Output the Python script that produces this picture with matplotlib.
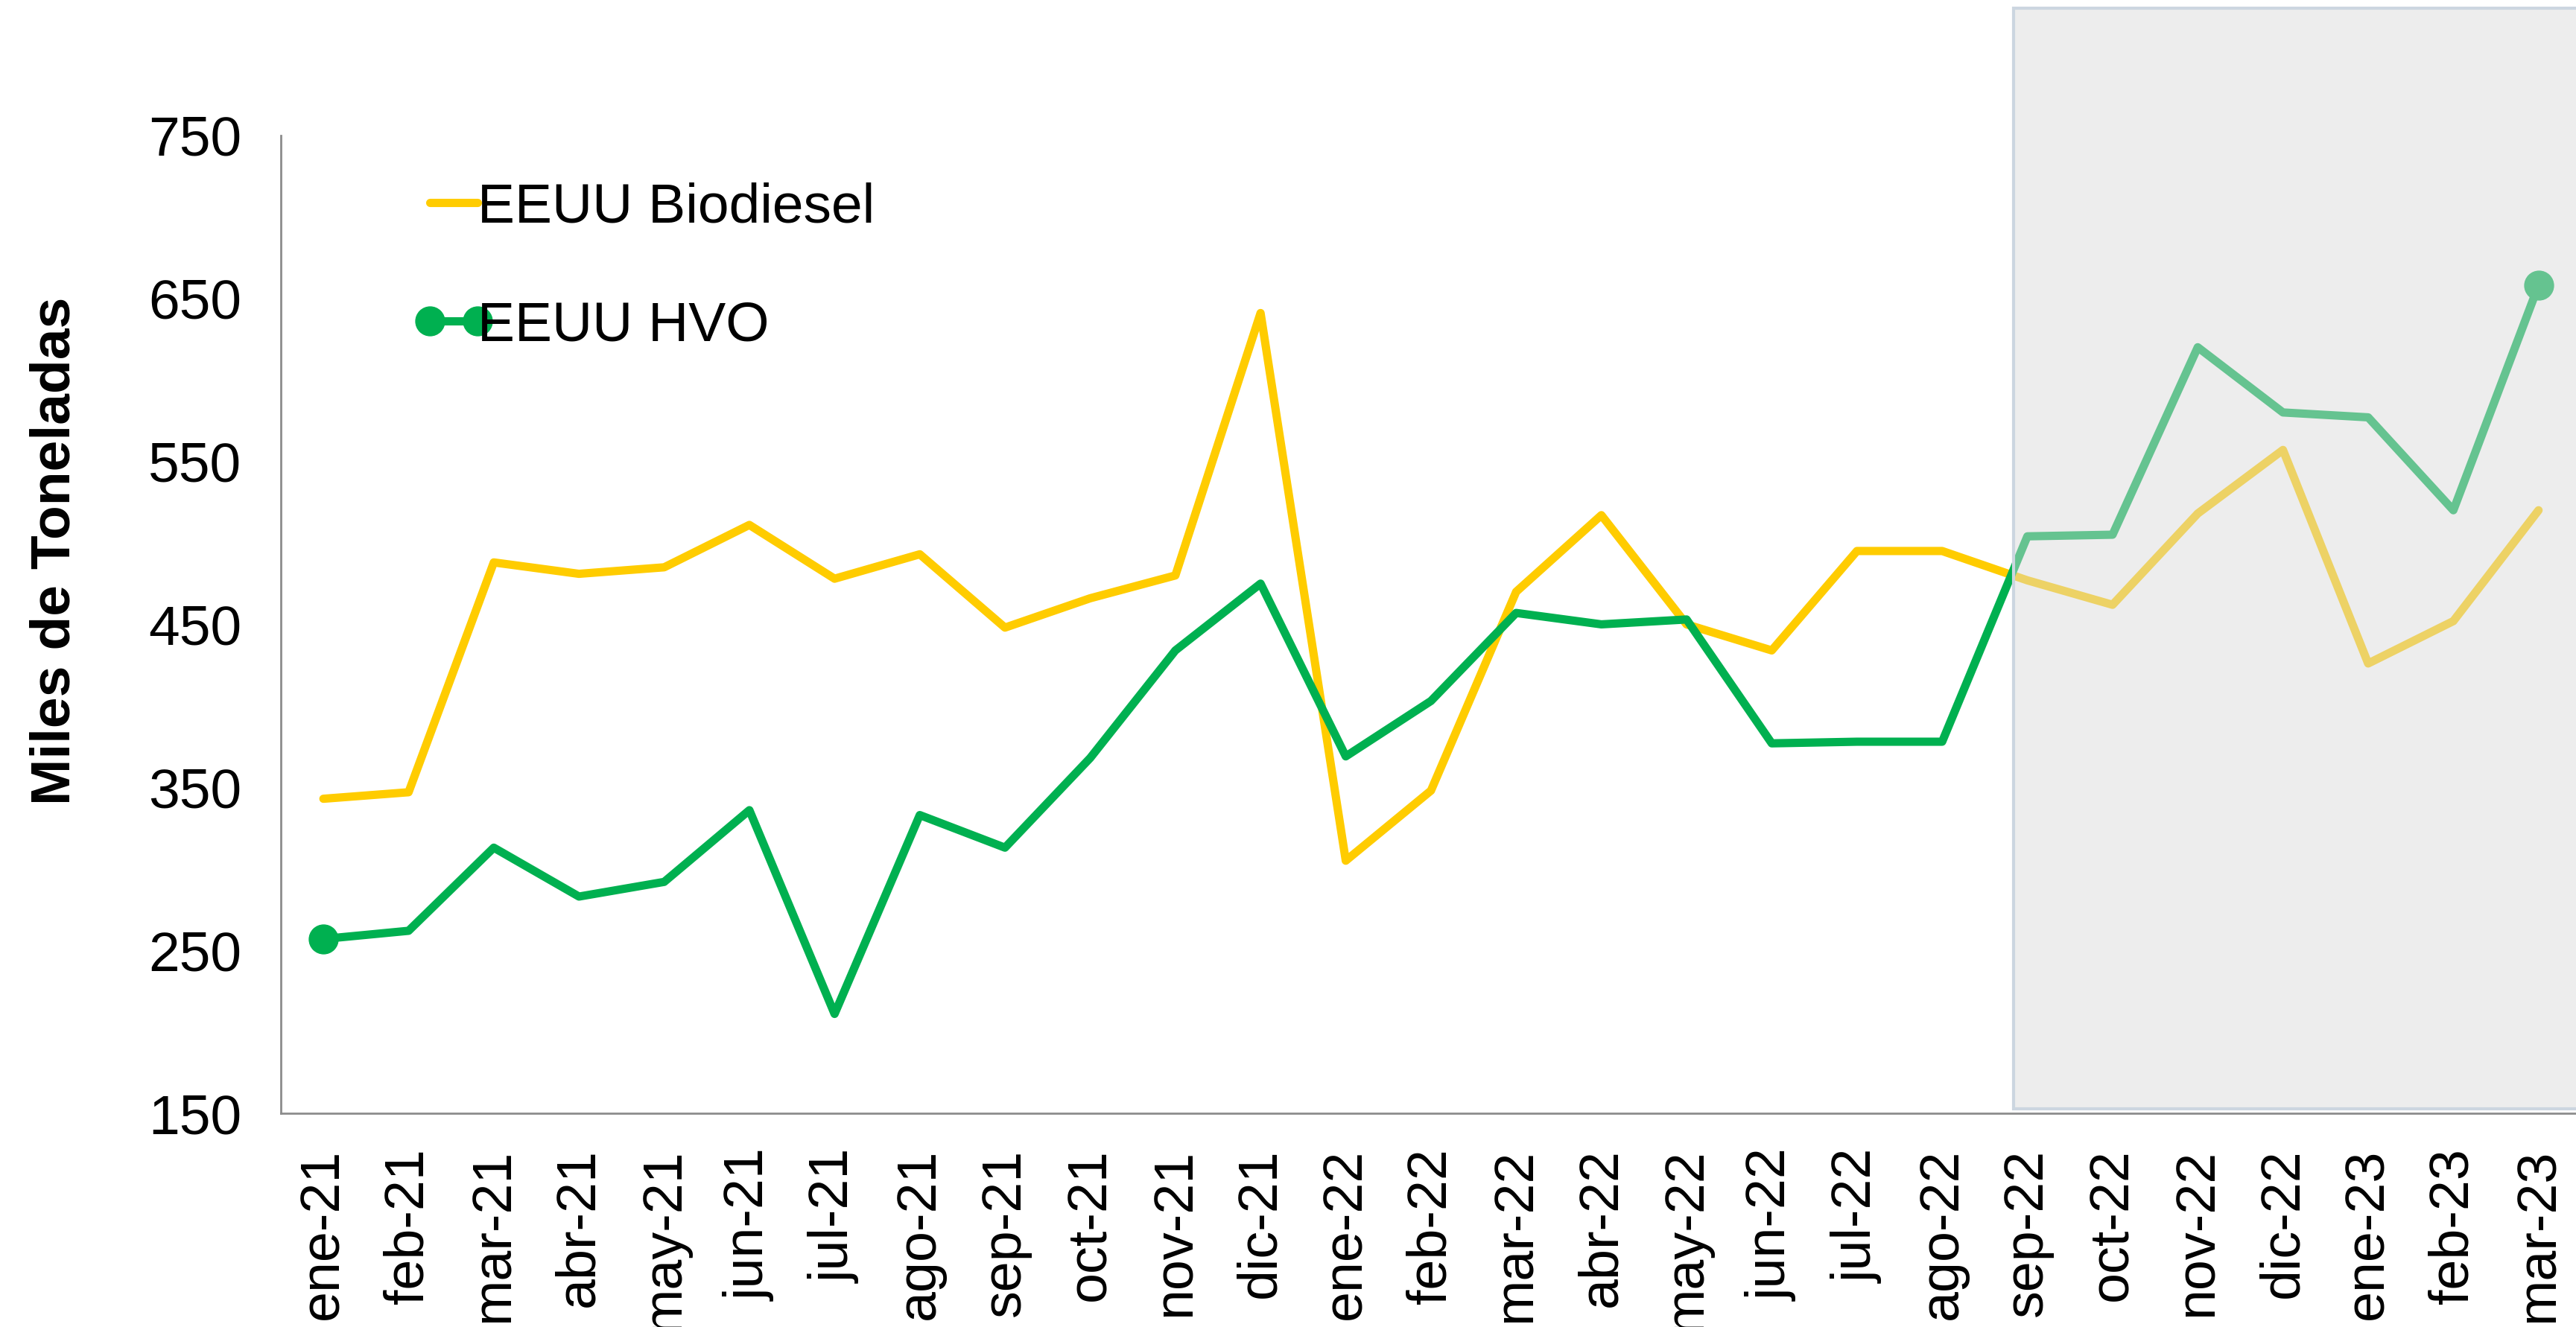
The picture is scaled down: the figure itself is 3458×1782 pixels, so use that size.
import numpy as np
import matplotlib
matplotlib.use("Agg")
import matplotlib.pyplot as plt
from matplotlib import font_manager
from matplotlib.patches import Rectangle
from matplotlib.legend_handler import HandlerLine2D

months = ["ene-21", "feb-21", "mar-21", "abr-21", "may-21", "jun-21", "jul-21", "ago-21",
          "sep-21", "oct-21", "nov-21", "dic-21", "ene-22", "feb-22", "mar-22", "abr-22",
          "may-22", "jun-22", "jul-22", "ago-22", "sep-22", "oct-22", "nov-22", "dic-22",
          "ene-23", "feb-23", "mar-23"]
biodiesel = [343, 347, 488, 481, 485, 511, 478, 493, 448, 466, 480, 641, 305, 348, 470, 517,
             450, 434, 495, 495, 477, 462, 518, 557, 426, 452, 520]
hvo = [257, 262, 313, 283, 292, 336, 211, 333, 313, 368, 434, 475, 369, 403, 457, 450, 453,
       377, 378, 378, 504, 505, 620, 580, 577, 520, 658]
yticks = [150, 250, 350, 450, 550, 650, 750]
shade_from = 19.84   # forecast zone starts just before sep-22

names = {f.name for f in font_manager.fontManager.ttflist}
BASE = "Liberation Sans" if "Liberation Sans" in names else "DejaVu Sans"
NARROW = "Liberation Sans Narrow" if "Liberation Sans Narrow" in names else BASE
plt.rcParams["font.family"] = [BASE, "DejaVu Sans"]

YEL, GRN = "#FFCC00", "#00B050"

fig = plt.figure(figsize=(34.58, 17.82), dpi=100)
ax = fig.add_axes([0.109, 0.161, 0.893, 0.737])
x = np.arange(len(months))
ax.plot(x, biodiesel, color=YEL, lw=8, solid_capstyle="round", solid_joinstyle="round",
        label="EEUU Biodiesel", zorder=3)
ax.plot(x, hvo, color=GRN, lw=8, marker="o", ms=28, markevery=[0, len(x) - 1],
        solid_capstyle="round", solid_joinstyle="round", label="EEUU HVO", zorder=3)

ax.add_patch(Rectangle((shade_from, 153), 30 - shade_from, 675,
                       facecolor=(217 / 255, 217 / 255, 217 / 255, 0.47),
                       edgecolor=(0.80, 0.84, 0.88, 1.0), lw=3, clip_on=False, zorder=4))

ax.set_xlim(-0.5, len(months) - 0.5)
ax.set_ylim(150, 750)
ax.set_yticks(yticks)
ax.set_xticks(x)
ax.set_xticklabels(months, rotation=90, fontsize=53)
for t in ax.get_yticklabels():
    t.set_fontsize(54)
    t.set_family([NARROW, "DejaVu Sans"])
ax.tick_params(axis="both", length=0)
ax.tick_params(axis="x", pad=34)
ax.tick_params(axis="y", pad=38)
for s in ("top", "right"):
    ax.spines[s].set_visible(False)
for s in ("left", "bottom"):
    ax.spines[s].set_color("#8C8C8C")
    ax.spines[s].set_linewidth(2)

ax.set_ylabel("Miles de Toneladas", fontsize=54, fontweight="bold")
ax.yaxis.set_label_coords(-0.087, 0.575)

hnd = HandlerLine2D(marker_pad=0)
ax.legend(loc="upper left", bbox_to_anchor=(0.055, 0.975), frameon=False, fontsize=54,
          handlelength=0.85, handletextpad=0.0, numpoints=2, labelspacing=1.2,
          borderaxespad=0, handler_map={ln: hnd for ln in ax.lines})

fig.savefig("out.png", dpi=100)
